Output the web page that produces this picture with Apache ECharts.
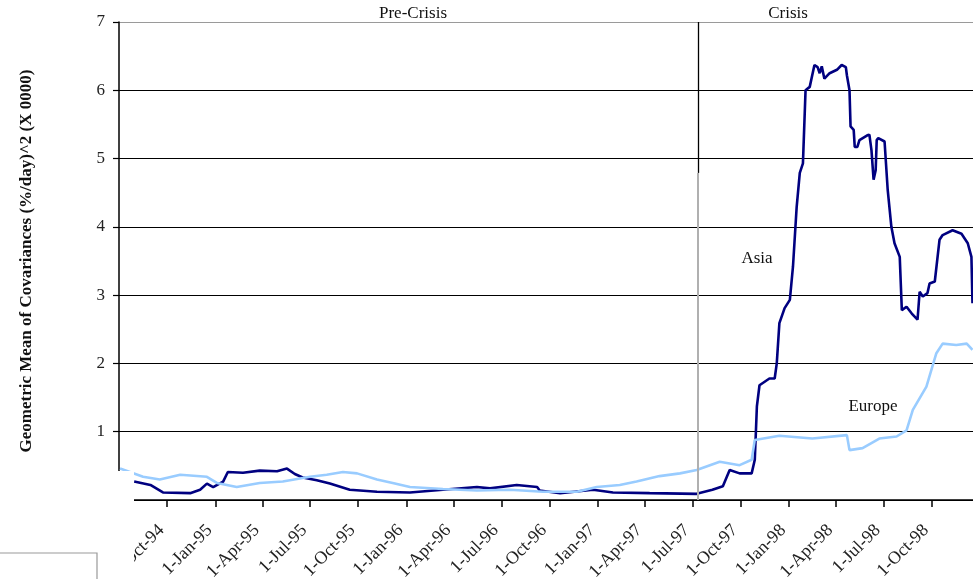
<!DOCTYPE html>
<html><head><meta charset="utf-8">
<script src="https://cdn.jsdelivr.net/npm/echarts@6/dist/echarts.min.js"></script>
<style>html,body{margin:0;padding:0;background:#fff}#c{width:973px;height:579px}</style>
</head><body><div id="c"></div>
<script>
const asiaDates = ['1994-07-30','1994-08-30','1994-09-23','1994-11-14','1994-12-03','1994-12-16','1994-12-28','1995-01-16','1995-01-25','1995-02-23','1995-03-27','1995-04-29','1995-05-18','1995-06-02','1995-06-17','1995-07-14','1995-08-08','1995-09-15','1995-11-06','1996-01-08','1996-03-11','1996-05-15','1996-06-09','1996-07-30','1996-09-07','1996-09-12','1996-10-21','1996-12-23','1997-01-30','1997-04-10','1997-07-09','1997-08-08','1997-08-28','1997-09-10','1997-09-29','1997-10-22','1997-10-28','1997-11-01','1997-11-06','1997-11-25','1997-12-05','1997-12-09','1997-12-14','1997-12-24','1998-01-03','1998-01-09','1998-01-16','1998-01-22','1998-01-28','1998-02-02','1998-02-10','1998-02-19','1998-02-25','1998-03-01','1998-03-05','1998-03-10','1998-03-20','1998-04-03','1998-04-12','1998-04-20','1998-04-22','1998-04-27','1998-04-29','1998-05-05','1998-05-07','1998-05-12','1998-05-16','1998-05-31','1998-06-04','1998-06-08','1998-06-12','1998-06-16','1998-06-18','1998-06-21','1998-07-03','1998-07-09','1998-07-16','1998-07-22','1998-08-01','1998-08-05','1998-08-14','1998-08-24','1998-09-04','1998-09-08','1998-09-14','1998-09-23','1998-09-27','1998-10-07','1998-10-16','1998-10-22','1998-11-10','1998-11-27','1998-12-09','1998-12-16','1998-12-18'];
const asiaValues = [0.27,0.22,0.11,0.10,0.15,0.24,0.19,0.27,0.41,0.40,0.43,0.42,0.46,0.38,0.33,0.29,0.24,0.15,0.12,0.11,0.15,0.19,0.17,0.22,0.19,0.14,0.10,0.15,0.11,0.10,0.09,0.15,0.20,0.44,0.39,0.39,0.59,1.37,1.68,1.78,1.78,2.00,2.59,2.81,2.93,3.42,4.29,4.79,4.93,6.00,6.05,6.37,6.34,6.25,6.35,6.17,6.25,6.30,6.37,6.34,6.22,6.00,5.47,5.42,5.17,5.17,5.27,5.34,5.35,5.12,4.69,4.83,5.27,5.30,5.25,4.54,4.00,3.76,3.56,2.78,2.83,2.73,2.64,3.05,2.98,3.03,3.17,3.20,3.81,3.88,3.95,3.90,3.76,3.56,2.88];

const europeDates = ['1994-07-03','1994-08-16','1994-09-17','1994-10-26','1994-12-16','1995-01-04','1995-02-11','1995-03-27','1995-05-10','1995-07-01','1995-08-02','1995-09-02','1995-09-29','1995-11-06','1995-12-06','1996-01-08','1996-03-11','1996-05-15','1996-07-17','1996-09-18','1996-11-22','1996-12-30','1997-02-12','1997-03-16','1997-04-29','1997-06-07','1997-07-09','1997-08-22','1997-09-29','1997-10-22','1997-10-28','1997-12-14','1998-02-15','1998-04-22','1998-04-27','1998-05-22','1998-06-23','1998-07-26','1998-08-14','1998-08-26','1998-09-21','1998-10-10','1998-10-22','1998-11-17','1998-12-07','1998-12-18'];
const europeValues = [0.46,0.34,0.30,0.37,0.34,0.25,0.19,0.25,0.27,0.34,0.37,0.41,0.39,0.30,0.25,0.19,0.16,0.14,0.15,0.12,0.12,0.19,0.22,0.27,0.35,0.39,0.44,0.56,0.51,0.59,0.88,0.94,0.90,0.95,0.73,0.76,0.90,0.93,1.02,1.32,1.66,2.15,2.29,2.27,2.29,2.20];

const quarterTicks = ['1994-10-01','1995-01-01','1995-04-01','1995-07-01','1995-10-01','1996-01-01','1996-04-01','1996-07-01','1996-10-01','1997-01-01','1997-04-01','1997-07-01','1997-10-01','1998-01-01','1998-04-01','1998-07-01','1998-10-01'];
const axisStart = '1994-07-01';
const axisEnd = '1998-12-19';
const crisisDate = '1997-07-11';
const crisisSplit = 4.79;
const yMin = 0, yMax = 7, yStep = 1;
const periodLabels = ['Pre-Crisis', 'Crisis'];
const seriesNames = ['Asia', 'Europe'];
const yTitle = 'Geometric Mean of Covariances (%/day)^2 (X 0000)';

const MON = ['Jan','Feb','Mar','Apr','May','Jun','Jul','Aug','Sep','Oct','Nov','Dec'];
function ts(s){ const p = s.split('-').map(Number); return Date.UTC(p[0], p[1]-1, p[2]); }
function fmt(v){ const d = new Date(v); return d.getUTCDate() + '-' + MON[d.getUTCMonth()] + '-' + String(d.getUTCFullYear()).slice(2); }

const serif = '"Liberation Serif", "DejaVu Serif", serif';
const chart = echarts.init(document.getElementById('c'), null, {renderer:'canvas'});
const tickVals = quarterTicks.map(ts);

chart.setOption({
  animation: false,
  backgroundColor: '#fff',
  grid: { left: 119, top: 22, right: 0, height: 478, outerBoundsMode: 'none', containLabel: false },
  xAxis: {
    type: 'value', min: ts(axisStart), max: ts(axisEnd), scale: true,
    axisLine: { show: true, onZero: false, lineStyle: { color: '#000', width: 1.5 } },
    axisTick: { show: true, length: 7, lineStyle: { color: '#000', width: 1.5 }, customValues: tickVals },
    axisLabel: { customValues: tickVals, rotate: 45, margin: 22, padding: [0, 8, 0, 0], formatter: v => fmt(v),
      fontFamily: serif, fontSize: 18, color: '#222' },
    splitLine: { show: false }
  },
  yAxis: {
    type: 'value', min: yMin, max: yMax, interval: yStep,
    name: yTitle, nameLocation: 'middle', nameRotate: 90, nameGap: 84,
    nameTextStyle: { fontFamily: serif, fontWeight: 'bold', fontSize: 17, color: '#111' },
    axisLine: { show: true, lineStyle: { color: '#000', width: 1.5 } },
    axisTick: { show: true, length: 6, lineStyle: { color: '#000', width: 1.2 } },
    axisLabel: { margin: 14, fontFamily: serif, fontSize: 17, color: '#222' },
    splitLine: { show: true, lineStyle: { color: ['#000','#000','#000','#000','#000','#000','#000','#9a9a9a'], width: 1.2 } }
  },
  series: [
    { name: seriesNames[0], type: 'line', showSymbol: false, z: 3,
      data: asiaDates.map((d,i) => [ts(d), asiaValues[i]]),
      lineStyle: { color: '#000080', width: 2.6 }, itemStyle: { color: '#000080' },
      markLine: { silent: true, symbol: 'none', label: { show: false },
        data: [
          [{ coord: [ts(crisisDate), yMax], lineStyle: { color: '#000', width: 1.3, type: 'solid' } }, { coord: [ts(crisisDate), crisisSplit] }],
          [{ coord: [ts(crisisDate), crisisSplit], lineStyle: { color: '#b0b0b0', width: 2, type: 'solid' } }, { coord: [ts(crisisDate), yMin] }]
        ] } },
    { name: seriesNames[1], type: 'line', showSymbol: false, z: 4,
      data: europeDates.map((d,i) => [ts(d), europeValues[i]]),
      lineStyle: { color: '#99ccff', width: 2.6 }, itemStyle: { color: '#99ccff' } }
  ],
  graphic: [
    { type: 'rect', z: 100, shape: { x: 0, y: 471, width: 134, height: 108 }, style: { fill: '#fff' } },
    { type: 'polyline', z: 101, shape: { points: [[0,553],[97,553],[97,579]] }, style: { stroke: '#999', lineWidth: 1.2, fill: null } },
    { type: 'text', z: 102, x: 413, y: 14, style: { text: periodLabels[0], font: '17px ' + serif, fill: '#111', align: 'center', verticalAlign: 'middle' } },
    { type: 'text', z: 102, x: 788, y: 14, style: { text: periodLabels[1], font: '17px ' + serif, fill: '#111', align: 'center', verticalAlign: 'middle' } },
    { type: 'text', z: 102, x: 757, y: 259, style: { text: seriesNames[0], font: '17px ' + serif, fill: '#111', align: 'center', verticalAlign: 'middle' } },
    { type: 'text', z: 102, x: 873, y: 407, style: { text: seriesNames[1], font: '17px ' + serif, fill: '#111', align: 'center', verticalAlign: 'middle' } }
  ]
});
</script></body></html>
